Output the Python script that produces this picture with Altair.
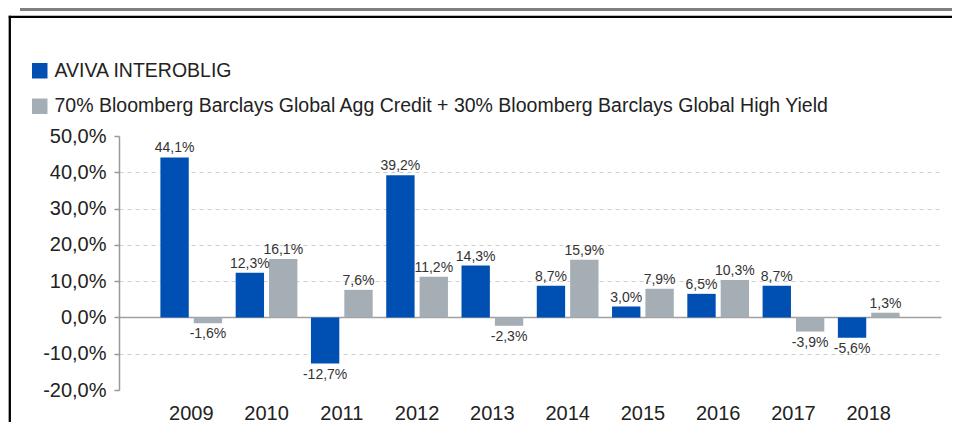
import altair as alt
import pandas as pd

# ---- data ----
years = ["2009", "2010", "2011", "2012", "2013", "2014", "2015", "2016", "2017", "2018"]
fund_name = "AVIVA INTEROBLIG"
bench_name = "70% Bloomberg Barclays Global Agg Credit + 30% Bloomberg Barclays Global High Yield"
fund_values = [44.1, 12.3, -12.7, 39.2, 14.3, 8.7, 3.0, 6.5, 8.7, -5.6]
bench_values = [-1.6, 16.1, 7.6, 11.2, -2.3, 15.9, 7.9, 10.3, -3.9, 1.3]
y_ticks = [-20, -10, 0, 10, 20, 30, 40, 50]
series_names = [fund_name, bench_name]
series_colors = ["#0050B4", "#A5AEB5"]

FONT = "Liberation Sans"


def fmt(v):
    return ("-" if v < 0 else "") + f"{abs(v):.1f}".replace(".", ",") + "%"


rows = []
for yr, f, b in zip(years, fund_values, bench_values):
    rows.append({"year": yr, "series": fund_name, "value": f, "label": fmt(f)})
    rows.append({"year": yr, "series": bench_name, "value": b, "label": fmt(b)})
df = pd.DataFrame(rows)
one_df = pd.DataFrame({"k": [0]})

W, H = 822, 254

y_scale = alt.Scale(domain=[-20, 50], nice=False, zero=False)
x_scale = alt.Scale(paddingInner=0.18, paddingOuter=0.55)

x_enc = alt.X(
    "year:N",
    sort=years,
    scale=x_scale,
    title=None,
    axis=alt.Axis(
        labelFontSize=20,
        labelFont=FONT,
        labelColor="#222222",
        ticks=False,
        domain=False,
        labelPadding=13,
        labelAngle=0,
        grid=False,
    ),
)
xoff = alt.XOffset(
    "series:N", sort=series_names, scale=alt.Scale(paddingInner=0.15, paddingOuter=0)
)
y_axis = alt.Axis(
    values=y_ticks,
    labelExpr="(datum.value < 0 ? '-' : '') + replace(format(abs(datum.value), '.1f'), '.', ',') + '%'",
    labelFontSize=20,
    labelFont=FONT,
    labelColor="#222222",
    labelPadding=8,
    labelOverlap=False,
    tickSize=5,
    tickColor="#999999",
    tickWidth=1.5,
    domainColor="#999999",
    domainWidth=1.5,
    grid=True,
    gridOpacity=alt.condition("datum.value == 50 || datum.value == -20", alt.value(0), alt.value(1)),
    gridDash=alt.condition("datum.value == 0", alt.value([]), alt.value([4, 4])),
    gridColor=alt.condition("datum.value == 0", alt.value("#A0A0A0"), alt.value("#CFCFCF")),
    gridWidth=alt.condition("datum.value == 0", alt.value(1.5), alt.value(1)),
)
y_enc = alt.Y("value:Q", scale=y_scale, title=None, axis=y_axis)

base = alt.Chart(df)

bars = base.mark_bar().encode(
    x=x_enc,
    xOffset=xoff,
    y=y_enc,
    color=alt.Color(
        "series:N",
        sort=series_names,
        scale=alt.Scale(domain=series_names, range=series_colors),
        legend=alt.Legend(
            title=None,
            orient="none",
            legendX=-89,
            legendY=-75,
            direction="vertical",
            symbolType="square",
            symbolSize=240,
            symbolStrokeWidth=0,
            labelFontSize=19.5,
            labelFont=FONT,
            labelColor="#222222",
            labelLimit=1000,
            rowPadding=14.5,
            labelOffset=5,
            padding=0,
            offset=0,
        ),
    ),
)

pos_text = base.transform_filter("datum.value >= 0").mark_text(
    baseline="alphabetic", dy=-5, fontSize=14, color="#333333", font=FONT
).encode(x=x_enc, xOffset=xoff, y=y_enc, text="label:N")

neg_text = base.transform_filter("datum.value < 0").mark_text(
    baseline="top", dy=4, fontSize=14, color="#333333", font=FONT
).encode(x=x_enc, xOffset=xoff, y=y_enc, text="label:N")

# page frame decoration
grey_bar = alt.Chart(one_df).mark_rule(color="#808080", strokeWidth=3).encode(
    x=alt.value(-99), x2=alt.value(833), y=alt.value(-126.5)
)
black_top = alt.Chart(one_df).mark_rule(color="#000000", strokeWidth=2.3).encode(
    x=alt.value(-110.3), x2=alt.value(833), y=alt.value(-119.2)
)
black_left = alt.Chart(one_df).mark_rule(color="#000000", strokeWidth=2.3).encode(
    x=alt.value(-109.2), y=alt.value(-120.3), y2=alt.value(300)
)

chart = (
    alt.layer(bars, pos_text, neg_text, grey_bar, black_top, black_left)
    .properties(
        width=W,
        height=H,
        padding={"left": 111, "top": 128, "right": 11, "bottom": 32},
        autosize=alt.AutoSizeParams(type="none"),
    )
    .configure(font=FONT)
    .configure_view(strokeWidth=0)
)

chart.save("out.html", embed_options={"renderer": "svg", "actions": False})
